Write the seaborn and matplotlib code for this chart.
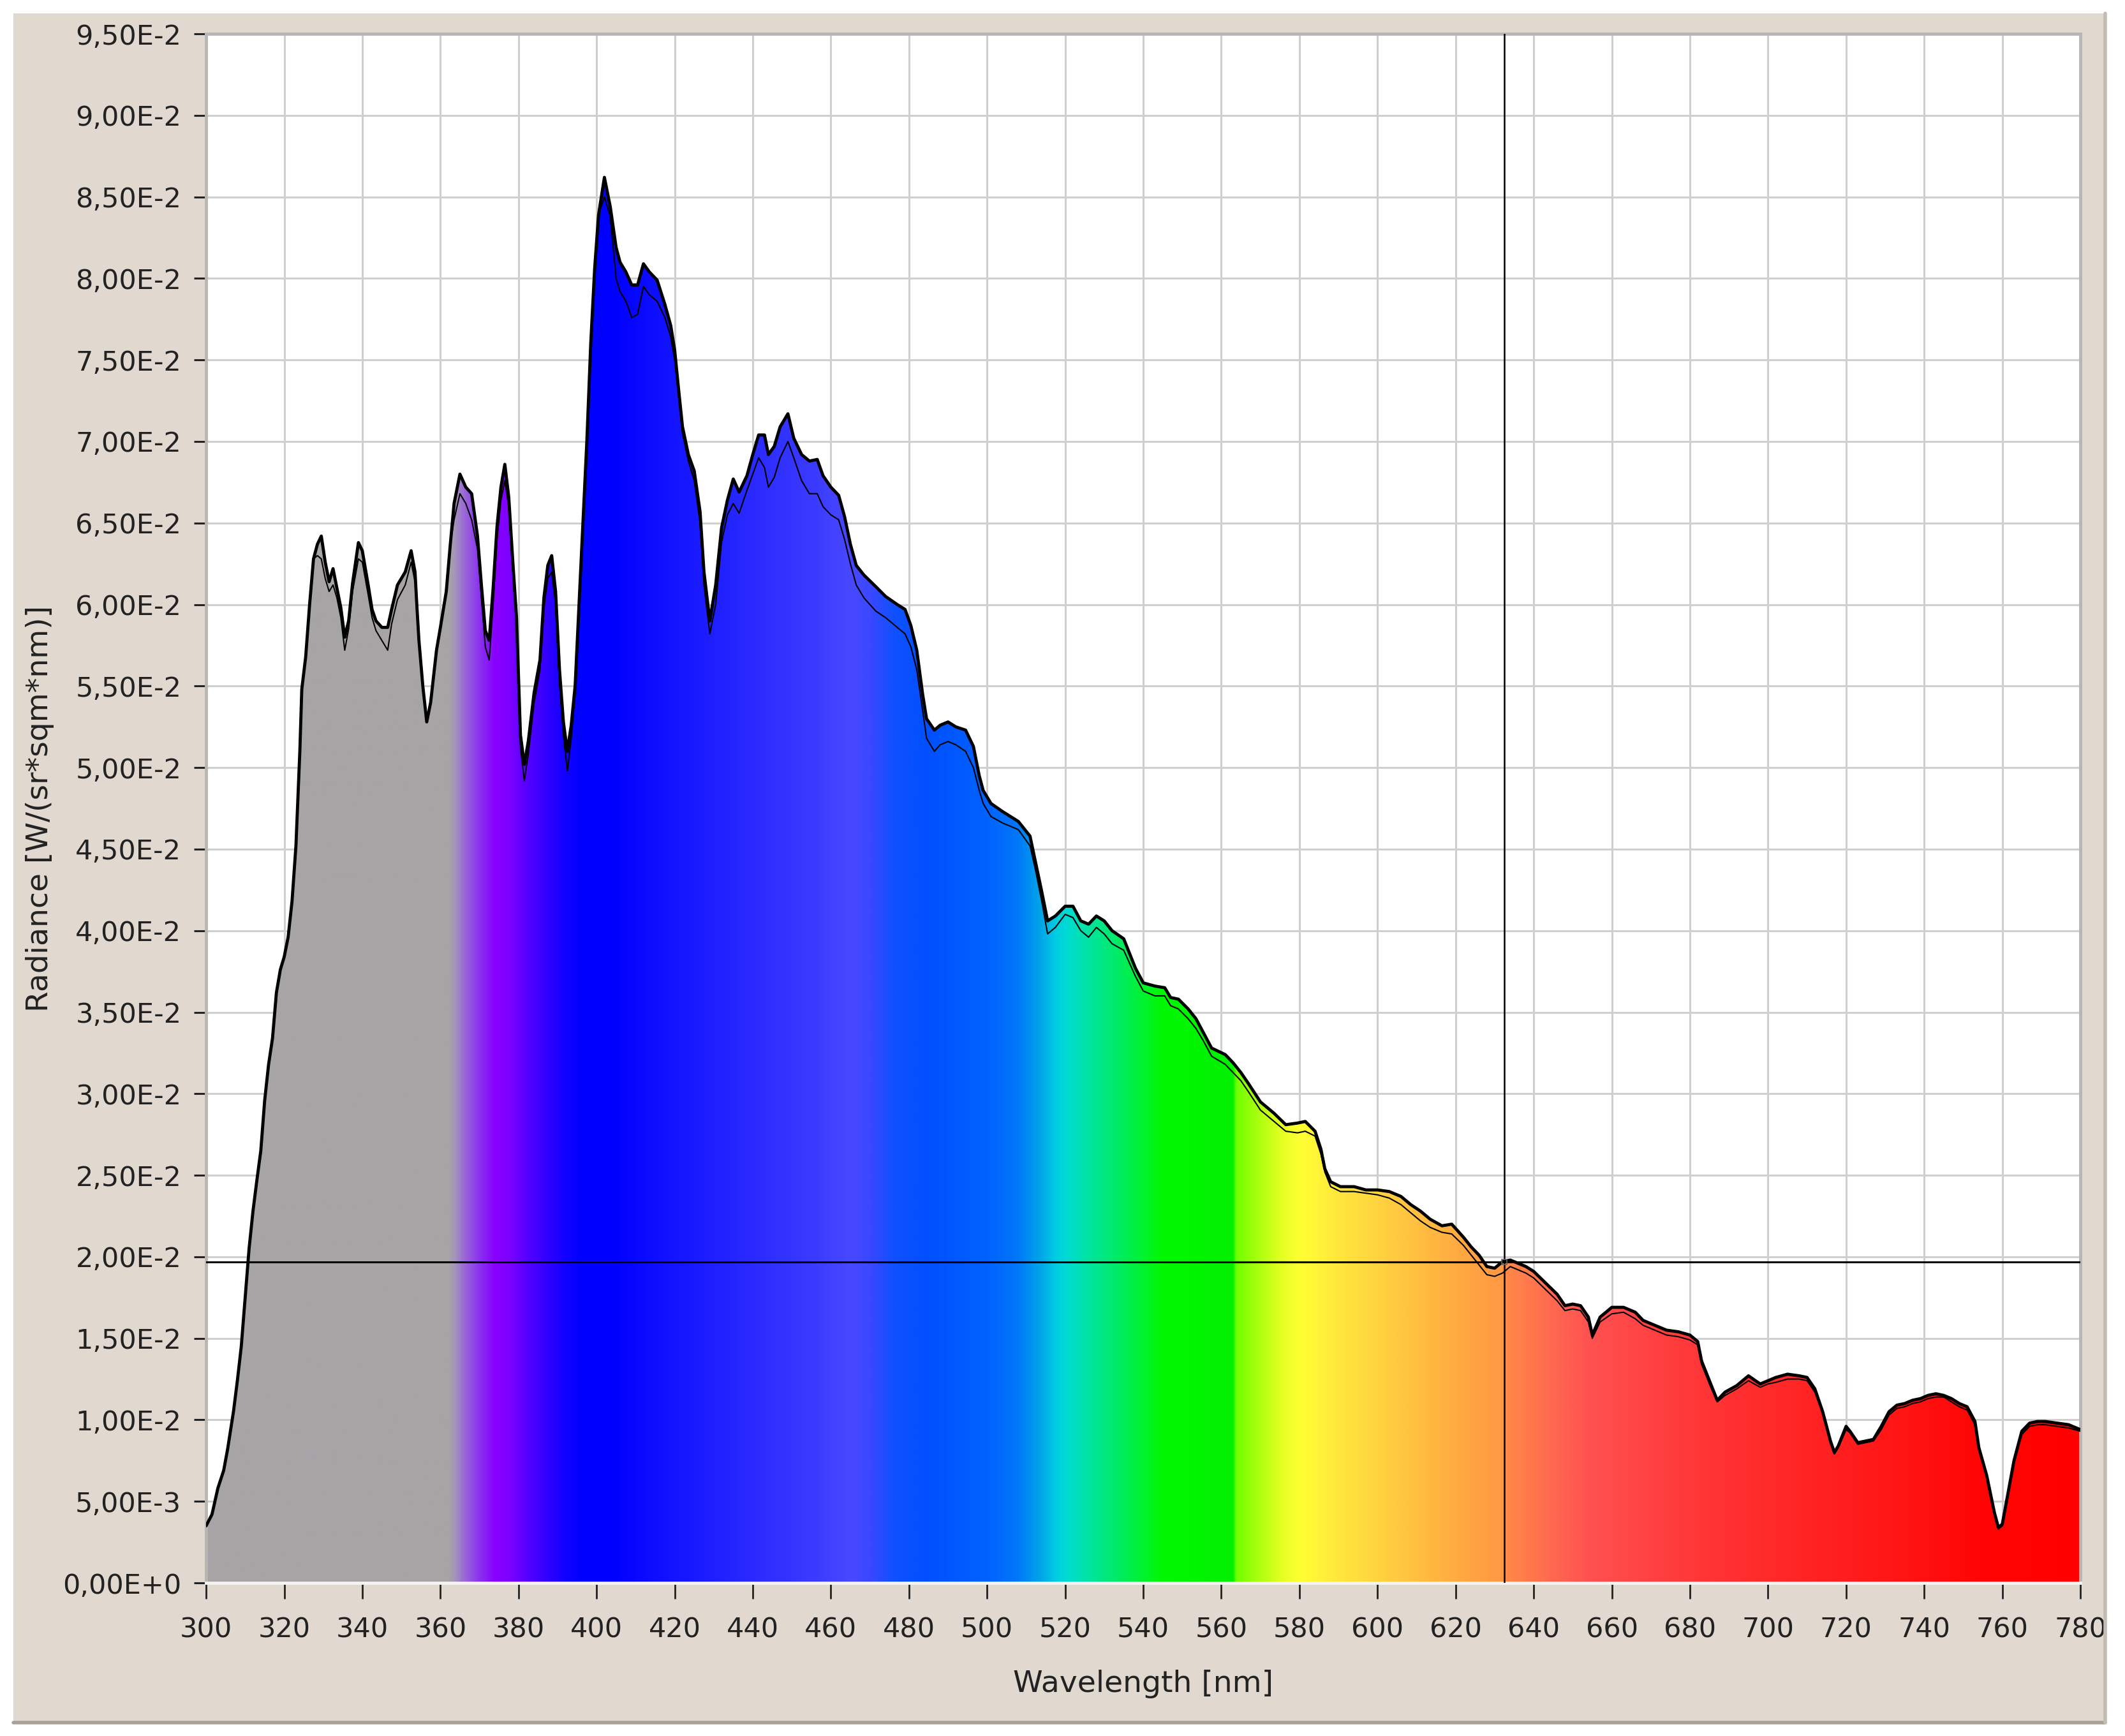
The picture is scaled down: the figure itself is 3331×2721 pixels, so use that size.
import numpy as np
import matplotlib
matplotlib.use("Agg")
import matplotlib.pyplot as plt
import seaborn as sns
from matplotlib.colors import LinearSegmentedColormap
from matplotlib.patches import Rectangle
from matplotlib.lines import Line2D
from matplotlib.ticker import FuncFormatter, MultipleLocator

# --- data (two overlapping scans) ---
wavelength = [
    300, 301.5, 303, 304.5, 305.5, 307, 308, 309, 310, 311, 312, 313, 314, 315, 316, 317, 318, 319, 320, 321,
    322, 323, 324, 324.5, 325.5, 326.5, 327.5, 328.5, 329.5, 330.5, 331.5, 332.5, 333.5, 334.5, 335.5, 336.5,
    337.5, 339, 340, 341.5, 342.5, 343.5, 345, 346.5, 347.5, 349, 351, 352.5, 353.5, 354, 354.5, 355.5, 356.5,
    357.5, 359, 360, 361.5, 362.5, 363.5, 365, 366.5, 368, 369.5, 370.5, 371.5, 372.5, 373.5, 374.5, 375.5,
    376.5, 377.5, 378.5, 379.5, 380.5, 381.5, 382.5, 384, 385.5, 386.5, 387.5, 388.5, 389.5, 390.5, 391.5,
    392.5, 393.5, 394.5, 395.5, 396.5, 397.5, 398.5, 399.5, 400.5, 402, 403.5, 405, 406, 407.5, 409, 410.5,
    412, 413.5, 415.5, 417.5, 419, 420, 421, 422, 423.5, 425, 426.5, 427.5, 429, 430.5, 432, 433.5, 435, 436.5,
    438.5, 440, 441.5, 443, 444, 445.5, 447, 449, 450.5, 452.5, 454.5, 456.5, 458, 460, 462, 463.5, 465, 466.5,
    468.5, 471.5, 474, 477, 479, 480.5, 482, 483.5, 484.5, 486.5, 488, 490, 492, 494.5, 496.5, 498, 499, 501,
    504, 508, 511, 512.5, 514, 515.5, 517.5, 520, 522, 524, 526, 528, 530, 532, 535, 536.5, 538, 540, 543,
    545.5, 547, 549, 551.5, 553.5, 555.5, 557.5, 561, 563, 565, 567, 570, 573.5, 576.5, 579.5, 581.5, 584,
    585.5, 586.5, 588, 590.5, 594, 597, 600, 603, 606, 608.5, 611, 613.5, 616.5, 619, 622, 624, 626, 628, 630,
    632, 634, 636, 638, 640, 643, 646, 648, 650, 652, 654, 655, 657, 660, 663, 666, 668, 671, 674, 677, 680,
    682, 683, 685, 687, 689, 692, 695, 698, 700, 702, 705, 708, 710, 712, 714, 716, 717, 718, 720, 721, 723,
    725, 727, 729, 731, 733, 735, 737, 739, 741, 743, 745, 747, 749, 751, 753, 754, 756, 758, 759, 760, 761,
    763, 765, 767, 769, 771, 774, 777, 780,
]

radiance_a = [
    0.0035, 0.0042, 0.0058, 0.0069, 0.0082, 0.0105, 0.0124, 0.0145, 0.0175, 0.0205, 0.0228, 0.0247, 0.0265,
    0.0296, 0.0318, 0.0334, 0.0362, 0.0376, 0.0384, 0.0396, 0.0418, 0.0452, 0.0510, 0.0548, 0.0568, 0.0600,
    0.0628, 0.0637, 0.0642, 0.0626, 0.0614, 0.0622, 0.0610, 0.0598, 0.0580, 0.0590, 0.0613, 0.0638, 0.0633,
    0.0612, 0.0597, 0.0590, 0.0586, 0.0586, 0.0597, 0.0612, 0.0620, 0.0633, 0.0620, 0.0598, 0.0578, 0.0550,
    0.0528, 0.0540, 0.0572, 0.0586, 0.0608, 0.0636, 0.0662, 0.0680, 0.0672, 0.0668, 0.0642, 0.0612, 0.0584,
    0.0578, 0.0610, 0.0648, 0.0672, 0.0686, 0.0666, 0.0628, 0.0592, 0.0520, 0.0502, 0.0516, 0.0546, 0.0566,
    0.0604, 0.0624, 0.0630, 0.0608, 0.0560, 0.0528, 0.0510, 0.0526, 0.0550, 0.0600, 0.0650, 0.0700, 0.0760,
    0.0806, 0.0839, 0.0862, 0.0844, 0.0819, 0.0810, 0.0804, 0.0796, 0.0796, 0.0809, 0.0804, 0.0799, 0.0784,
    0.0771, 0.0756, 0.0732, 0.0709, 0.0692, 0.0682, 0.0657, 0.0620, 0.0590, 0.0612, 0.0647, 0.0664, 0.0677,
    0.0669, 0.0679, 0.0692, 0.0704, 0.0704, 0.0692, 0.0697, 0.0709, 0.0717, 0.0702, 0.0692, 0.0688, 0.0689,
    0.0679, 0.0672, 0.0667, 0.0654, 0.0637, 0.0624, 0.0618, 0.0611, 0.0605, 0.0600, 0.0597, 0.0587, 0.0572,
    0.0545, 0.0530, 0.0523, 0.0526, 0.0528, 0.0525, 0.0523, 0.0513, 0.0495, 0.0486, 0.0478, 0.0473, 0.0467,
    0.0458, 0.0441, 0.0424, 0.0406, 0.0409, 0.0415, 0.0415, 0.0406, 0.0404, 0.0409, 0.0406, 0.0400, 0.0395,
    0.0386, 0.0377, 0.0368, 0.0366, 0.0365, 0.0359, 0.0358, 0.0352, 0.0346, 0.0337, 0.0328, 0.0324, 0.0319,
    0.0313, 0.0306, 0.0295, 0.0288, 0.0281, 0.0282, 0.0283, 0.0277, 0.0266, 0.0254, 0.0246, 0.0243, 0.0243,
    0.0241, 0.0241, 0.0240, 0.0237, 0.0232, 0.0228, 0.0223, 0.0219, 0.0220, 0.0212, 0.0206, 0.0201, 0.0194,
    0.0193, 0.0197, 0.0198, 0.0196, 0.0194, 0.0191, 0.0184, 0.0177, 0.0170, 0.0171, 0.0170, 0.0163, 0.0152,
    0.0163, 0.0169, 0.0169, 0.0166, 0.0161, 0.0158, 0.0155, 0.0154, 0.0152, 0.0148, 0.0136, 0.0124, 0.0112,
    0.0117, 0.0121, 0.0127, 0.0122, 0.0124, 0.0126, 0.0128, 0.0127, 0.0126, 0.0119, 0.0105, 0.0087, 0.0080,
    0.0084, 0.0096, 0.0093, 0.0086, 0.0087, 0.0088, 0.0096, 0.0105, 0.0109, 0.0110, 0.0112, 0.0113, 0.0115,
    0.0116, 0.0115, 0.0113, 0.0110, 0.0108, 0.0099, 0.0083, 0.0066, 0.0043, 0.0034, 0.0036, 0.0049, 0.0075,
    0.0093, 0.0098, 0.0099, 0.0099, 0.0098, 0.0097, 0.0094,
]

radiance_b = [
    0.0035, 0.0042, 0.0058, 0.0069, 0.0082, 0.0105, 0.0124, 0.0145, 0.0175, 0.0205, 0.0228, 0.0247, 0.0265,
    0.0296, 0.0318, 0.0334, 0.0362, 0.0376, 0.0384, 0.0396, 0.0418, 0.0452, 0.0510, 0.0548, 0.0568, 0.0600,
    0.0628, 0.0630, 0.0628, 0.0616, 0.0608, 0.0612, 0.0604, 0.0592, 0.0572, 0.0585, 0.0608, 0.0628, 0.0626,
    0.0606, 0.0592, 0.0584, 0.0578, 0.0572, 0.0588, 0.0603, 0.0612, 0.0626, 0.0614, 0.0598, 0.0578, 0.0550,
    0.0528, 0.0540, 0.0572, 0.0586, 0.0608, 0.0636, 0.0652, 0.0668, 0.0662, 0.0652, 0.0634, 0.0604, 0.0574,
    0.0566, 0.0600, 0.0640, 0.0664, 0.0676, 0.0660, 0.0622, 0.0588, 0.0512, 0.0492, 0.0508, 0.0540, 0.0560,
    0.0598, 0.0616, 0.0620, 0.0600, 0.0552, 0.0520, 0.0498, 0.0518, 0.0545, 0.0600, 0.0650, 0.0700, 0.0760,
    0.0806, 0.0839, 0.0850, 0.0838, 0.0800, 0.0792, 0.0786, 0.0776, 0.0778, 0.0795, 0.0790, 0.0786, 0.0776,
    0.0764, 0.0750, 0.0728, 0.0705, 0.0688, 0.0676, 0.0650, 0.0612, 0.0582, 0.0600, 0.0638, 0.0655, 0.0662,
    0.0656, 0.0670, 0.0680, 0.0690, 0.0684, 0.0672, 0.0678, 0.0690, 0.0700, 0.0690, 0.0676, 0.0668, 0.0668,
    0.0660, 0.0655, 0.0652, 0.0640, 0.0625, 0.0612, 0.0604, 0.0596, 0.0592, 0.0586, 0.0582, 0.0574, 0.0560,
    0.0535, 0.0518, 0.0510, 0.0514, 0.0516, 0.0514, 0.0510, 0.0500, 0.0486, 0.0478, 0.0470, 0.0466, 0.0462,
    0.0452, 0.0436, 0.0418, 0.0398, 0.0402, 0.0410, 0.0408, 0.0400, 0.0396, 0.0402, 0.0398, 0.0392, 0.0388,
    0.0380, 0.0372, 0.0363, 0.0360, 0.0360, 0.0354, 0.0352, 0.0346, 0.0340, 0.0332, 0.0323, 0.0318, 0.0313,
    0.0308, 0.0301, 0.0290, 0.0283, 0.0277, 0.0276, 0.0277, 0.0274, 0.0263, 0.0252, 0.0243, 0.0240, 0.0240,
    0.0239, 0.0238, 0.0236, 0.0232, 0.0227, 0.0222, 0.0218, 0.0215, 0.0214, 0.0207, 0.0201, 0.0195, 0.0189,
    0.0188, 0.0190, 0.0194, 0.0192, 0.0190, 0.0187, 0.0180, 0.0173, 0.0167, 0.0168, 0.0167, 0.0160, 0.0150,
    0.0160, 0.0165, 0.0166, 0.0162, 0.0158, 0.0155, 0.0152, 0.0151, 0.0149, 0.0146, 0.0134, 0.0122, 0.0111,
    0.0115, 0.0119, 0.0124, 0.0120, 0.0122, 0.0123, 0.0125, 0.0125, 0.0124, 0.0117, 0.0104, 0.0086, 0.0079,
    0.0083, 0.0094, 0.0092, 0.0085, 0.0086, 0.0087, 0.0094, 0.0103, 0.0107, 0.0108, 0.0110, 0.0111, 0.0113,
    0.0114, 0.0114, 0.0111, 0.0108, 0.0106, 0.0097, 0.0082, 0.0065, 0.0042, 0.0033, 0.0035, 0.0048, 0.0074,
    0.0091, 0.0096, 0.0097, 0.0097, 0.0096, 0.0095, 0.0093,
]

# cursor position
cursor_wl = 632.4
cursor_rad = 0.0197

# fill colours along the wavelength axis
color_stops_wl = [300, 362, 363.5, 366, 370, 374, 378, 382, 386, 392, 396, 404, 420, 440, 455, 465, 470, 476,
                  485, 500, 508, 514, 518, 521, 526, 532, 538, 545, 563, 564, 570, 575, 580, 590, 600, 612, 624,
                  632.3, 632.6, 645, 655, 665, 685, 710, 735, 755, 780]
color_stops = ["#a7a4a6", "#a7a4a6", "#a496b8", "#9a68d8", "#8a30f0", "#8800ff", "#7a00ff", "#5500ff",
               "#3a00ff", "#1000ff", "#0000ff", "#0000ff", "#1414ff", "#2a2aff", "#3a3aff", "#4848ff", "#3a48ff",
               "#1050ff", "#0050ff", "#0062ff", "#0078f8", "#00a8e8", "#00d0e0", "#00dcd0", "#00e4a0", "#00ea70",
               "#00f040", "#00f800", "#00f000", "#70ff00", "#b0ff10", "#e0ff20", "#ffff33", "#ffe83c", "#ffd440",
               "#ffbc40", "#ffa442", "#ff9844", "#ff8a48", "#ff6850", "#ff5050", "#ff4646", "#ff3434", "#ff2424",
               "#ff1414", "#ff0404", "#ff0000"]

x_min, x_max = 300, 780
y_min, y_max = 0.0, 0.095


def sci_comma(v, pos):
    if abs(v) < 1e-12:
        return "0,00E+0"
    exp = int(np.floor(np.log10(abs(v)) + 1e-9))
    mant = v / 10 ** exp
    return f"{mant:.2f}".replace(".", ",") + f"E{exp:+d}".replace("+", "" if exp < 0 else "+")


sns.set_style("white")
plt.rcParams['font.family'] = ['DejaVu Sans']

fig = plt.figure(figsize=(33.31, 27.21), dpi=100, facecolor="white")

# beige window frame
fig.patches.append(Rectangle((0.0063, 0.0077), 0.9844, 0.9846, transform=fig.transFigure,
                             facecolor="#e1d9d0", edgecolor="none", zorder=-10))
fig.add_artist(Line2D([0.0063, 0.9907], [0.0077, 0.0077], transform=fig.transFigure, color="#a8a199", lw=4))
fig.add_artist(Line2D([0.9907, 0.9907], [0.0077, 0.9923], transform=fig.transFigure, color="#c4bcb3", lw=4))

ax = fig.add_axes([0.097, 0.0882, 0.882, 0.8923])
ax.set_facecolor("white")

# spectrum fill: gradient image clipped to the area under the curves
upper = np.maximum(radiance_a, radiance_b)
poly = ax.fill_between(wavelength, 0, upper, facecolor="none", edgecolor="none")
span = x_max - x_min
cmap = LinearSegmentedColormap.from_list(
    "spectrum", [((w - x_min) / span, c) for w, c in zip(color_stops_wl, color_stops)], N=2048)
grad = cmap(np.linspace(0, 1, 2400))[None, :, :]
img = ax.imshow(grad, extent=[x_min, x_max, y_min, y_max], aspect="auto", origin="lower",
                interpolation="bilinear", zorder=2)
img.set_clip_path(poly.get_paths()[0], transform=ax.transData)

# the two scans
sns.lineplot(x=wavelength, y=radiance_b, color="black", linewidth=1.5, ax=ax, zorder=4)
sns.lineplot(x=wavelength, y=radiance_a, color="black", linewidth=3.5, ax=ax, zorder=5)

# cursor cross-hair
ax.axvline(cursor_wl, color="black", lw=1.8, zorder=6)
ax.axhline(cursor_rad, color="black", lw=2.2, zorder=6)
ax.plot([cursor_wl], [cursor_rad], marker="s", ms=6, mfc="none", mec="#666666", mew=1.2, zorder=7)

ax.set_xlim(x_min, x_max)
ax.set_ylim(y_min, y_max)
ax.xaxis.set_major_locator(MultipleLocator(20))
ax.yaxis.set_major_locator(MultipleLocator(0.005))
ax.yaxis.set_major_formatter(FuncFormatter(sci_comma))

ax.set_axisbelow(True)
ax.grid(True, color="#cfcfcf", linewidth=2.2, zorder=0)

for side in ["left", "top", "right"]:
    ax.spines[side].set_color("#b8b6b4")
    ax.spines[side].set_linewidth(3.5)
ax.spines["bottom"].set_color("#f6f4f2")
ax.spines["bottom"].set_linewidth(3.5)

ax.tick_params(axis="y", direction="out", length=14, width=2.2, color="#222222", pad=14,
               labelsize=31, labelcolor="#222222", left=True)
ax.tick_params(axis="x", direction="out", length=18, width=2.0, color="#222222", pad=20,
               labelsize=31, labelcolor="#222222", bottom=True)

ax.set_xlabel("Wavelength [nm]", fontsize=34, color="#222222")
ax.set_ylabel("Radiance [W/(sr*sqm*nm)]", fontsize=34, color="#222222")
ax.xaxis.set_label_coords(0.5, -0.056)
ax.yaxis.set_label_coords(-0.081, 0.5)

fig.savefig("out.png", dpi=100, facecolor=fig.get_facecolor())
